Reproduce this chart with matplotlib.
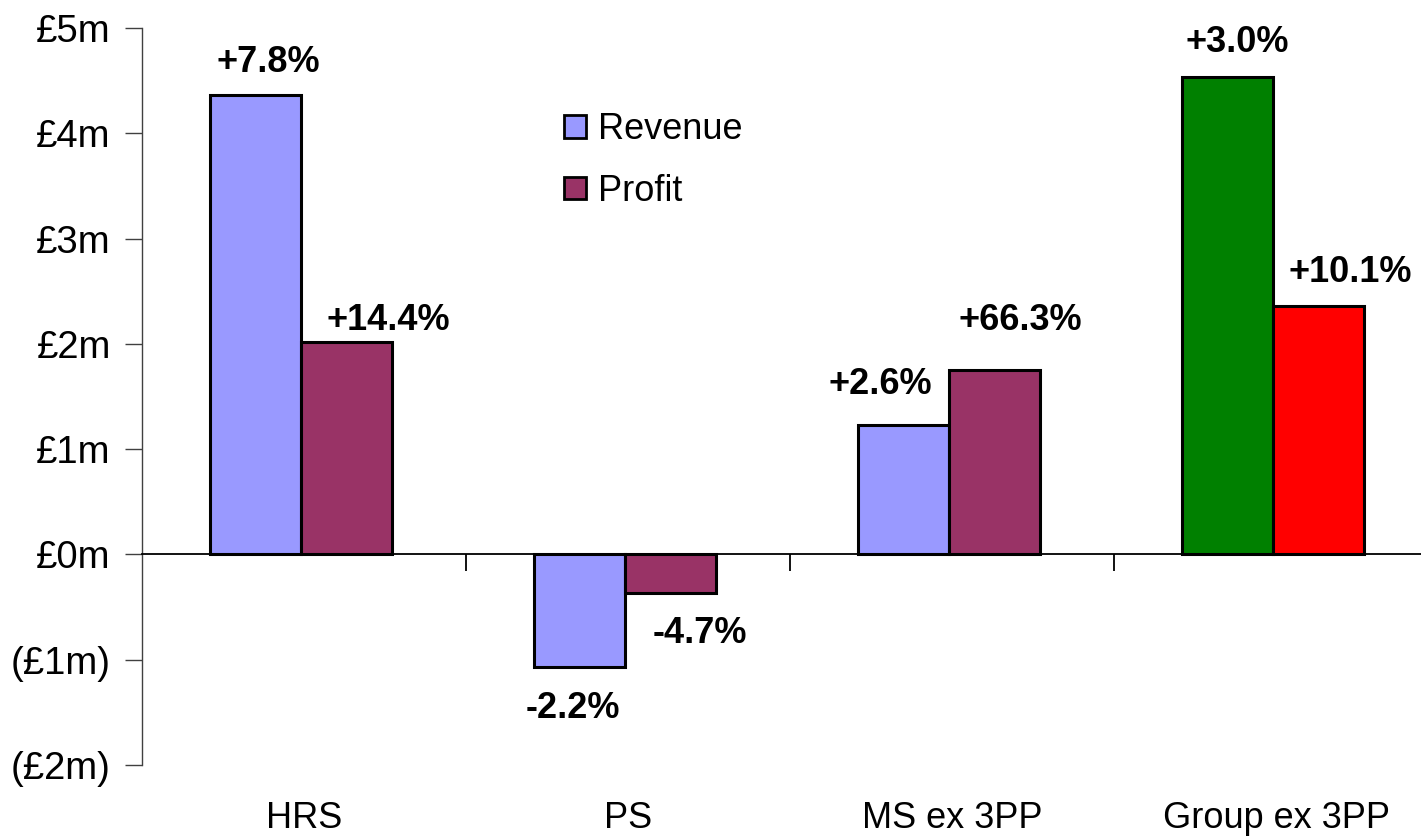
import matplotlib
matplotlib.use("Agg")
import matplotlib.pyplot as plt
import matplotlib.transforms as mtransforms
from matplotlib.patches import Patch
import numpy as np

categories = ["HRS", "PS", "MS ex 3PP", "Group ex 3PP"]
revenue = [4.36, -1.07, 1.23, 4.53]
profit = [2.02, -0.37, 1.75, 2.36]
revenue_labels = ["+7.8%", "-2.2%", "+2.6%", "+3.0%"]
profit_labels = ["+14.4%", "-4.7%", "+66.3%", "+10.1%"]
yticks = [-2, -1, 0, 1, 2, 3, 4, 5]
yticklabels = ["(£2m)", "(£1m)", "£0m", "£1m", "£2m", "£3m", "£4m", "£5m"]

rev_colors = ["#9999FF", "#9999FF", "#9999FF", "#008000"]
prof_colors = ["#993366", "#993366", "#993366", "#FF0000"]

# label anchor positions (data units)
rev_label_pos = [(-0.111, 4.67), (0.830, -1.46), (1.778, 1.61), (2.880, 4.86)]
prof_label_pos = [(0.259, 2.22), (1.222, -0.75), (2.210, 2.22), (3.228, 2.68)]

plt.rcParams['font.family'] = ['Liberation Sans', 'DejaVu Sans']
FS = 26

fig = plt.figure(figsize=(14.21, 8.40), dpi=100)
ax = fig.add_axes([142/1421, 75/840, 1296/1421, 737/840])

x = np.arange(len(categories))
w = 0.281
off = -0.008
ax.bar(x - w/2 + off, revenue, w, color=rev_colors, edgecolor="black", linewidth=2.2, zorder=3)
ax.bar(x + w/2 + off, profit, w, color=prof_colors, edgecolor="black", linewidth=2.2, zorder=3)

for (px, py), t in zip(rev_label_pos, revenue_labels):
    ax.text(px, py, t, ha="center", va="center", fontsize=FS, fontweight="bold")
for (px, py), t in zip(prof_label_pos, profit_labels):
    ax.text(px, py, t, ha="center", va="center", fontsize=FS, fontweight="bold")

ax.set_xlim(-0.5, 3.5)
ax.set_ylim(-2, 5)
ax.set_yticks(yticks)
ax.set_yticklabels(yticklabels, fontsize=27.5)
ax.tick_params(axis="y", direction="out", length=12, width=1, pad=10.5, color="#404040")

ax.spines["top"].set_visible(False)
ax.spines["right"].set_visible(False)
ax.spines["left"].set_color("#404040")
ax.spines["left"].set_linewidth(1.0)
ax.spines["bottom"].set_position(("data", 0))
ax.spines["bottom"].set_linewidth(1.3)
ax.spines["bottom"].set_color("black")
ax.set_xticks([0.5, 1.5, 2.5])
ax.set_xticklabels([])
ax.tick_params(axis="x", direction="out", length=12, width=1.3, color="black")

trans = mtransforms.blended_transform_factory(ax.transData, ax.transAxes)
for i, c in enumerate(categories):
    ax.text(i, -0.072, c, transform=trans, ha="center", va="center", fontsize=FS)

handles = [Patch(facecolor="#9999FF", edgecolor="black", linewidth=2),
           Patch(facecolor="#993366", edgecolor="black", linewidth=2)]
leg = ax.legend(handles, ["Revenue", "Profit"], loc="upper left",
                bbox_to_anchor=(564/1421, 1 - 112/840), bbox_transform=fig.transFigure,
                frameon=False, fontsize=FS, handlelength=0.6, handleheight=0.6,
                handletextpad=0.35, labelspacing=0.74, borderpad=0, borderaxespad=0)

fig.savefig("out.png", dpi=100)
